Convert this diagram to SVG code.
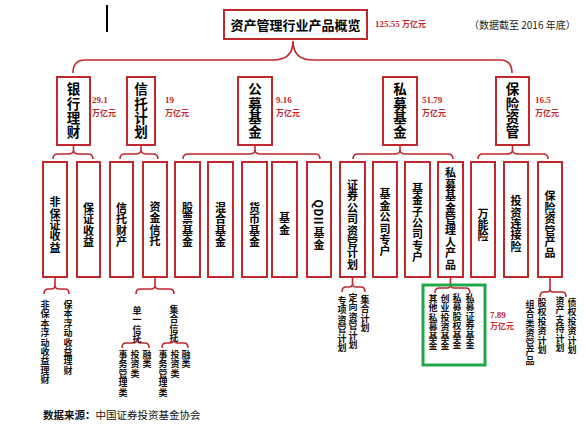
<svg xmlns="http://www.w3.org/2000/svg" width="586" height="428" viewBox="0 0 586 428">
<style>
.bx{fill:#fff;stroke:#c0282d;stroke-width:2}
.ln{fill:none;stroke:#c0282d;stroke-width:1.6}
.t1{font-family:"Noto Sans CJK SC",sans-serif;font-weight:bold;font-size:13px;fill:#000;text-anchor:middle}
.v2{font-family:"Noto Sans CJK SC",sans-serif;font-weight:bold;font-size:13.5px;fill:#000;writing-mode:vertical-rl;text-anchor:middle;letter-spacing:0.8px}
.v3{font-family:"Noto Sans CJK SC",sans-serif;font-weight:bold;font-size:11px;fill:#000;writing-mode:vertical-rl;text-anchor:middle;letter-spacing:0.4px}
.vs{font-family:"Noto Sans CJK SC",sans-serif;font-weight:bold;font-size:9px;fill:#111;writing-mode:vertical-rl;text-anchor:start;letter-spacing:0.4px}
.n{font-family:"Liberation Serif",serif;font-weight:bold;font-size:9px;fill:#c0282d}
.u{font-family:"Noto Sans CJK SC",sans-serif;font-weight:bold;font-size:8px;fill:#c0282d}
.note{font-family:"Noto Sans CJK SC",sans-serif;font-size:10px;fill:#222}
.src{font-family:"Noto Sans CJK SC",sans-serif;font-size:10.5px;fill:#111}
</style>
<rect width="586" height="428" fill="#fff"/>
<line x1="107" y1="5" x2="107" y2="32" stroke="#000" stroke-width="2"/>

<g id="connectors">
<path class="ln" d="M73,73 Q73,60 85,60 L273,60 Q293,60 293,41 Q293,60 313,60 L500,60 Q512,60 512,73"/>
<path class="ln" d="M73.5,145 L73.5,150 M53,159 Q53,154 58,154 L68,154 Q73.5,154 73.5,150 Q73.5,154 79,154 L88,154 Q93,154 93,159"/>
<path class="ln" d="M141,145 L141,150 M120,159 Q120,154 125,154 L135,154 Q141,154 141,150 Q141,154 147,154 L153,154 Q158,154 158,159"/>
<path class="ln" d="M255,145 L255,150 M183,159 Q183,154 188,154 L249,154 Q255,154 255,150 Q255,154 261,154 L315,154 Q320,154 320,159"/>
<path class="ln" d="M400,145 L400,150 M353,159 Q353,154 358,154 L394,154 Q400,154 400,150 Q400,154 406,154 L448,154 Q453,154 453,159"/>
<path class="ln" d="M512.5,145 L512.5,150 M478,159 Q478,154 483,154 L506,154 Q512.5,154 512.5,150 Q512.5,154 519,154 L543,154 Q548,154 548,159"/>
<path class="ln" d="M55,277 L55,285 M44,294 Q44,289 48,289 L51,289 Q55,289 55,285 Q55,289 59,289 L65,289 Q69,289 69,294"/>
<path class="ln" d="M155,277 L155,285 M136,294 Q136,289 140,289 L151,289 Q155,289 155,285 Q155,289 159,289 L170,289 Q174,289 174,294"/>
<path class="ln" d="M137,339 Q137,343 133,343 L126,343 Q122,343 122,348 M137,339 Q137,343 141,343 L145,343 Q149,343 149,348"/>
<path class="ln" d="M174,339 Q174,343 170,343 L166,343 Q162,343 162,348 M174,339 Q174,343 178,343 L184,343 Q188,343 188,348"/>
<path class="ln" d="M352.5,277 L352.5,283 M342,292 Q342,287 346,287 L349,287 Q352.5,287 352.5,283 Q352.5,287 356,287 L361,287 Q365,287 365,292"/>
<path class="ln" d="M450.5,277 L450.5,284 M435,293 Q435,288 439,288 L447,288 Q450.5,288 450.5,284 Q450.5,288 454,288 L466,288 Q470,288 470,293"/>
<path class="ln" d="M550,277 L550,289 M540,297 Q540,292 544,292 L547,292 Q550,292 550,289 Q550,292 553,292 L562,292 Q566,292 566,297"/>
</g>

<g id="title">
<rect class="bx" x="224" y="10" width="143" height="29"/>
<text class="t1" x="295.5" y="30">资产管理行业产品概览</text>
<text class="n" x="375" y="27">125.55 <tspan class="u">万亿元</tspan></text>
</g>
<text class="note" x="469" y="29">（数据截至 2016 年底）</text>

<g id="yinhang">
<rect class="bx" x="57" y="77" width="33" height="68"/>
<text class="v2" x="73.5" y="111">银行理财</text>
<text class="n" x="92" y="103">29.1</text><text class="u" x="92" y="116">万亿元</text>
</g>
<g id="xintuo">
<rect class="bx" x="127" y="77" width="28" height="68"/>
<text class="v2" x="141" y="111">信托计划</text>
<text class="n" x="165" y="103">19</text><text class="u" x="165" y="116">万亿元</text>
</g>
<g id="gongmu">
<rect class="bx" x="238" y="77" width="34" height="68"/>
<text class="v2" x="255" y="111">公募基金</text>
<text class="n" x="276" y="103">9.16</text><text class="u" x="276" y="116">万亿元</text>
</g>
<g id="simu">
<rect class="bx" x="383" y="77" width="34" height="68"/>
<text class="v2" x="400" y="111">私募基金</text>
<text class="n" x="422" y="103">51.79</text><text class="u" x="422" y="116">万亿元</text>
</g>
<g id="baoxian">
<rect class="bx" x="496" y="77" width="33" height="68"/>
<text class="v2" x="512.5" y="111">保险资管</text>
<text class="n" x="535" y="103">16.5</text><text class="u" x="535" y="116">万亿元</text>
</g>

<g id="l3-feibaozheng"><rect class="bx" x="43" y="162" width="24" height="115"/><text class="v3" x="55" y="225">非保证收益</text></g>
<g id="l3-baozheng"><rect class="bx" x="77" y="162" width="23" height="115"/><text class="v3" x="88.5" y="225">保证收益</text></g>
<g id="l3-xintuocaichan"><rect class="bx" x="110" y="162" width="23" height="115"/><text class="v3" x="121.5" y="225">信托财产</text></g>
<g id="l3-zijinxintuo"><rect class="bx" x="143" y="162" width="24" height="115"/><text class="v3" x="155" y="224">资金信托</text></g>
<g id="l3-gupiao"><rect class="bx" x="175" y="162" width="25" height="115"/><text class="v3" x="187.5" y="225">股票基金</text></g>
<g id="l3-hunhe"><rect class="bx" x="208" y="162" width="25" height="115"/><text class="v3" x="220.5" y="225">混合基金</text></g>
<g id="l3-huobi"><rect class="bx" x="242" y="162" width="25" height="115"/><text class="v3" x="254.5" y="225">货币基金</text></g>
<g id="l3-jijin"><rect class="bx" x="272" y="162" width="25" height="115"/><text class="v3" x="284.5" y="224">基金</text></g>
<g id="l3-qdii"><rect class="bx" x="307" y="162" width="24" height="115"/><text class="v3" x="319" y="225">QDII 基金</text></g>
<g id="l3-zhengquan"><rect class="bx" x="340" y="162" width="25" height="115"/><text class="v3" x="352.5" y="225">证券公司资管计划</text></g>
<g id="l3-jijingongsi"><rect class="bx" x="373" y="162" width="24" height="115"/><text class="v3" x="385" y="223">基金公司专户</text></g>
<g id="l3-zigongsi"><rect class="bx" x="405" y="162" width="25" height="115"/><text class="v3" x="417.5" y="223">基金子公司专户</text></g>
<g id="l3-simuguanliren"><rect class="bx" x="438" y="162" width="25" height="115"/><text class="v3" x="450.5" y="219">私募基金管理人产品</text></g>
<g id="l3-wanneng"><rect class="bx" x="471" y="162" width="24" height="115"/><text class="v3" x="483" y="225">万能险</text></g>
<g id="l3-touzilianjie"><rect class="bx" x="504" y="162" width="24" height="115"/><text class="v3" x="516" y="224">投资连接险</text></g>
<g id="l3-baoxianzg"><rect class="bx" x="538" y="162" width="24" height="115"/><text class="v3" x="550" y="225">保险资管产品</text></g>

<g id="l4-yinhang">
<text class="vs" x="45" y="300">非保本浮动收益理财</text>
<text class="vs" x="68" y="300">保本浮动收益理财</text>
</g>
<g id="l4-xintuo">
<text class="vs" x="137" y="306">单一信托</text>
<text class="vs" x="174" y="305">集合信托</text>
<text class="vs" x="123" y="350">事务管理类</text>
<text class="vs" x="135" y="350">投资类</text>
<text class="vs" x="147" y="350">融类</text>
<text class="vs" x="163" y="350">事务管理类</text>
<text class="vs" x="175" y="350">投资类</text>
<text class="vs" x="186" y="350">融类</text>
</g>
<g id="l4-zhengquan">
<text class="vs" x="342" y="296">专项资管计划</text>
<text class="vs" x="353" y="293">定向资管计划</text>
<text class="vs" x="365" y="295">集合计划</text>
</g>
<g id="l4-simu">
<rect x="423" y="285" width="62" height="80" fill="none" stroke="#21a84a" stroke-width="3"/>
<text class="vs" x="433" y="294">其他私募基金</text>
<text class="vs" x="445" y="294">创业投资基金</text>
<text class="vs" x="457" y="293">私募股权基金</text>
<text class="vs" x="470" y="293">私募证券基金</text>
<text class="n" x="490" y="318">7.89</text><text class="u" x="490" y="329">万亿元</text>
</g>
<g id="l4-baoxian">
<text class="vs" x="530" y="300">组合类资管产品</text>
<text class="vs" x="542" y="298">股权投资计划</text>
<text class="vs" x="560" y="296">资产支持计划</text>
<text class="vs" x="572" y="298">债权投资计划</text>
</g>

<text class="src" x="43" y="419"><tspan font-weight="bold">数据来源：</tspan>中国证券投资基金协会</text>
</svg>
